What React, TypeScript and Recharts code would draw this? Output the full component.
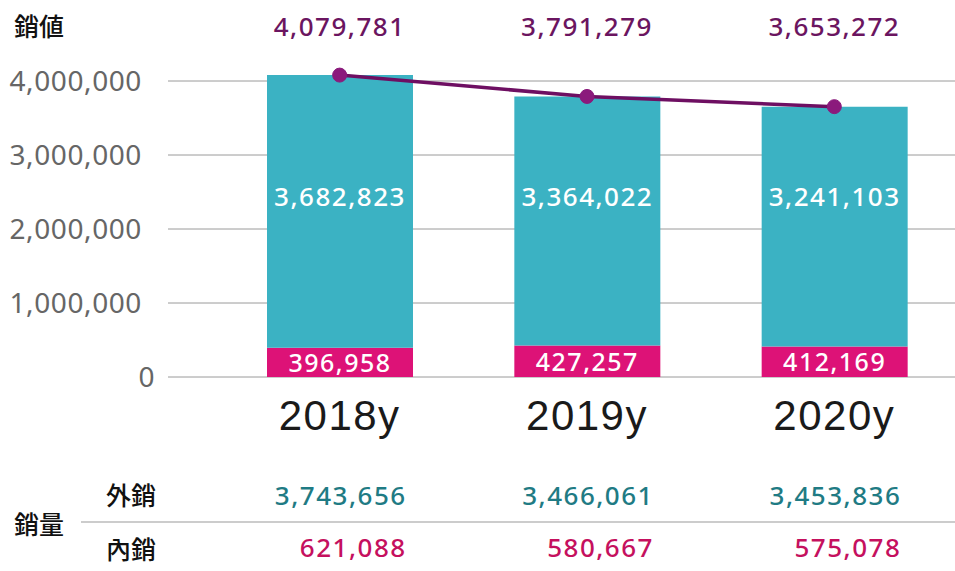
import React from 'react';
import { ComposedChart, Bar, Line, XAxis, YAxis, CartesianGrid, LabelList } from 'recharts';

const years = ['2018y', '2019y', '2020y'];
const domesticValue = [396958, 427257, 412169];
const exportValue = [3682823, 3364022, 3241103];
const totalValue = [4079781, 3791279, 3653272];
const exportQty = [3743656, 3466061, 3453836];
const domesticQty = [621088, 580667, 575078];
const yTicks = [0, 1000000, 2000000, 3000000, 4000000];

const data = years.map((y, i) => ({
  year: y,
  domestic: domesticValue[i],
  export: exportValue[i],
  total: totalValue[i],
  exportQty: exportQty[i],
  domesticQty: domesticQty[i],
}));

const fmt = (v: number) => v.toLocaleString('en-US');
const NUM_FONT = '"Noto Sans", "Open Sans", sans-serif';
const CJK_FONT = '"Noto Sans CJK JP", "Noto Sans CJK TC", sans-serif';

const XTick = (props: any) => {
  const { x, payload, index } = props;
  return (
    <g>
      <text x={x} y={430} textAnchor="middle" fontFamily='"Liberation Sans", Arial, sans-serif' fontSize={42} letterSpacing={1.5} fill="#1a1a1a">
        {payload.value}
      </text>
      <text x={x + 67} y={505} textAnchor="end" fontFamily={NUM_FONT} fontSize={26} fontWeight={500} letterSpacing={1.5} fill="#1f7b84">
        {fmt(exportQty[index])}
      </text>
      <text x={x + 67} y={557} textAnchor="end" fontFamily={NUM_FONT} fontSize={26} fontWeight={500} letterSpacing={1.5} fill="#c5105e">
        {fmt(domesticQty[index])}
      </text>
    </g>
  );
};

const YTick = (props: any) => {
  const { x, y, payload } = props;
  const shift = payload.value === 0 ? 13 : 0;
  return (
    <text x={x + shift} y={y + 10} textAnchor="end" fontFamily={NUM_FONT} fontSize={28} letterSpacing={0.6} fill="#666666">
      {fmt(payload.value)}
    </text>
  );
};

const TotalLabel = (props: any) => {
  const { x, value } = props;
  return (
    <text x={x} y={36} textAnchor="middle" fontFamily={NUM_FONT} fontSize={26} fontWeight={500} letterSpacing={1.5} fill="#6b1560">
      {fmt(value)}
    </text>
  );
};

const ExportLabel = (props: any) => {
  const { x, width, value } = props;
  return (
    <text x={x + width / 2} y={206} textAnchor="middle" fontFamily={NUM_FONT} fontSize={26} fontWeight={500} letterSpacing={1.5} fill="#ffffff">
      {fmt(value)}
    </text>
  );
};

const DomesticLabel = (props: any) => {
  const { x, y, width, height, value } = props;
  return (
    <text x={x + width / 2} y={y + height / 2 + 9.5} textAnchor="middle" fontFamily={NUM_FONT} fontSize={25} fontWeight={500} letterSpacing={1.5} fill="#ffffff">
      {fmt(value)}
    </text>
  );
};

export default function App() {
  return (
    <div style={{ position: 'absolute', left: 0, top: 0, width: 955, height: 571, background: '#fff' }}>
      <ComposedChart width={955} height={571} data={data} margin={{ top: 44, right: 0, bottom: 0, left: 0 }}>
        <CartesianGrid horizontal vertical={false} syncWithTicks stroke="#9a9a9a" strokeWidth={1} />
        <XAxis
          dataKey="year"
          height={194}
          axisLine={false}
          tickLine={false}
          padding={{ left: 48, right: -3 }}
          tick={<XTick />}
          interval={0}
        />
        <YAxis
          width={168}
          domain={[0, 4500000]}
          ticks={yTicks}
          axisLine={false}
          tickLine={false}
          tickSize={0}
          tickMargin={26}
          tick={<YTick />}
          interval={0}
        />
        <Bar dataKey="domestic" stackId="a" fill="#dd1277" barSize={146} isAnimationActive={false}>
          <LabelList dataKey="domestic" content={<DomesticLabel />} />
        </Bar>
        <Bar dataKey="export" stackId="a" fill="#3bb2c3" barSize={146} isAnimationActive={false}>
          <LabelList dataKey="export" content={<ExportLabel />} />
        </Bar>
        <Line
          dataKey="total"
          stroke="#6e0f62"
          strokeWidth={3.5}
          dot={{ r: 7, fill: '#8b1a7c', stroke: '#8b1a7c', strokeWidth: 1 }}
          isAnimationActive={false}
        >
          <LabelList dataKey="total" content={<TotalLabel />} />
        </Line>
      </ComposedChart>
      <svg width={955} height={571} style={{ position: 'absolute', left: 0, top: 0, pointerEvents: 'none' }}>
        <text x={14} y={36} fontFamily={CJK_FONT} fontSize={25} fontWeight={500} fill="#111">銷値</text>
        <text x={106} y={505} fontFamily={CJK_FONT} fontSize={25} fontWeight={500} fill="#111">外銷</text>
        <text x={14} y={534} fontFamily={CJK_FONT} fontSize={25} fontWeight={500} fill="#111">銷量</text>
        <text x={106} y={559} fontFamily={CJK_FONT} fontSize={25} fontWeight={500} fill="#111">內銷</text>
        <line x1={81} x2={955} y1={522} y2={522} stroke="#bbbbbb" strokeWidth={1.5} />
      </svg>
    </div>
  );
}
